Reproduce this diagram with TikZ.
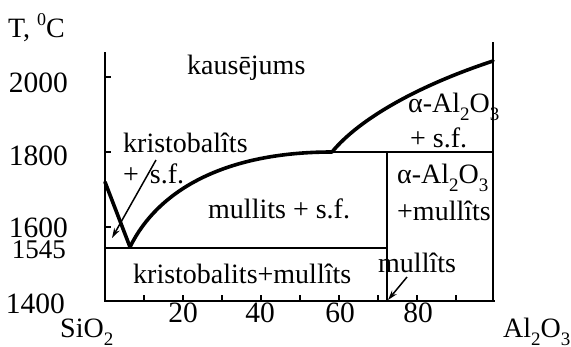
\documentclass[tikz,border=0pt]{standalone}
\usepackage{fontspec}
\setmainfont{Liberation Serif}
\usetikzlibrary{arrows.meta}
\newcommand\lowsub[1]{\raisebox{-0.3em}{\fontsize{19}{19}\selectfont #1}}
\newcommand\hisup[1]{\raisebox{0.42em}{\fontsize{18}{18}\selectfont #1}}
\begin{document}
\begin{tikzpicture}[x=1pt,y=-1pt,
  lbl/.style={inner sep=0pt, anchor=base west, font=\fontsize{28}{30}\selectfont},
  num/.style={inner sep=0pt, font=\fontsize{29.5}{30}\selectfont},
  axisline/.style={line width=1.8pt},
  phaseline/.style={line width=1.8pt},
  curveline/.style={line width=3.6pt, line cap=round},
  pointer/.style={line width=1.5pt, -{Stealth[length=10pt,width=6pt]}}]
\useasboundingbox (0,0) rectangle (571,346);

% axes
\draw[axisline] (105,52) -- (105,301) -- (495,301);
\draw[axisline] (493,42) -- (493,301);
\foreach \yy in {77,152,227} \draw[axisline] (105,\yy) -- (111,\yy);
\foreach \k in {10,20,...,90} \draw[axisline] ({105+3.9*\k},301) -- ({105+3.9*\k},295);

% phase boundaries
\draw[phaseline] (105,248) -- (387,248);
\draw[phaseline] (387,152) -- (387,301);
\draw[line width=2.8pt] (332,152) -- (493,152);
\draw[curveline] (105,182) -- (130,247);
\draw[curveline] (130,247) .. controls (158,190) and (225,152) .. (332,152);
\draw[curveline] (332,152) .. controls (360,118) and (420,85) .. (493,61);

% axis labels
\node[lbl] (tc) at (8,37) {T, \hisup{0}C};
\node[num, anchor=base east] (y2000) at (68,92) {2000};
\node[num, anchor=base east] (y1800) at (68,165) {1800};
\node[num, anchor=base east] (y1600) at (68,237) {1600};
\node[num, anchor=base east, font=\fontsize{27}{28}\selectfont] (y1545) at (66,258) {1545};
\node[num, anchor=base east] (y1400) at (65,313) {1400};
\node[num, anchor=base] (x20) at (183,322) {20};
\node[num, anchor=base] (x40) at (260,322) {40};
\node[num, anchor=base] (x60) at (340,322) {60};
\node[num, anchor=base] (x80) at (418,322) {80};
\node[lbl] (sio) at (60,337) {SiO\lowsub{2}};
\node[lbl] (alo) at (503,337) {Al\lowsub{2}O\lowsub{3}};

% region labels
\node[lbl] (melt) at (187,74) {kausējums};
\node[lbl] (alsf1) at (408,112) {α-Al\lowsub{2}O\lowsub{3}};
\node[lbl] (alsf2) at (410,147) {+ s.f.};
\node[lbl] (almu1) at (397,183) {α-Al\lowsub{2}O\lowsub{3}};
\node[lbl] (almu2) at (397,220) {+mullîts};
\node[lbl] (musf) at (208,218) {mullits + s.f.};
\node[lbl] (krmu) at (133,283) {kristobalits+mullîts};
\node[lbl] (mu) at (378,272) {mullîts};
\node[lbl] (krsf1) at (123,152) {kristobalîts};
\node[lbl] (krsf2) at (123,183) {+\hspace{11pt}s.f.};

% pointers
\coordinate (krtip) at (112,238);
\coordinate (krstart) at (156,160);
\coordinate (mutip) at (388,300);
\coordinate (mustart) at (407,277);
\draw[pointer] (krstart) -- (krtip);
\draw[pointer] (mustart) -- (mutip);
\end{tikzpicture}
\end{document}
